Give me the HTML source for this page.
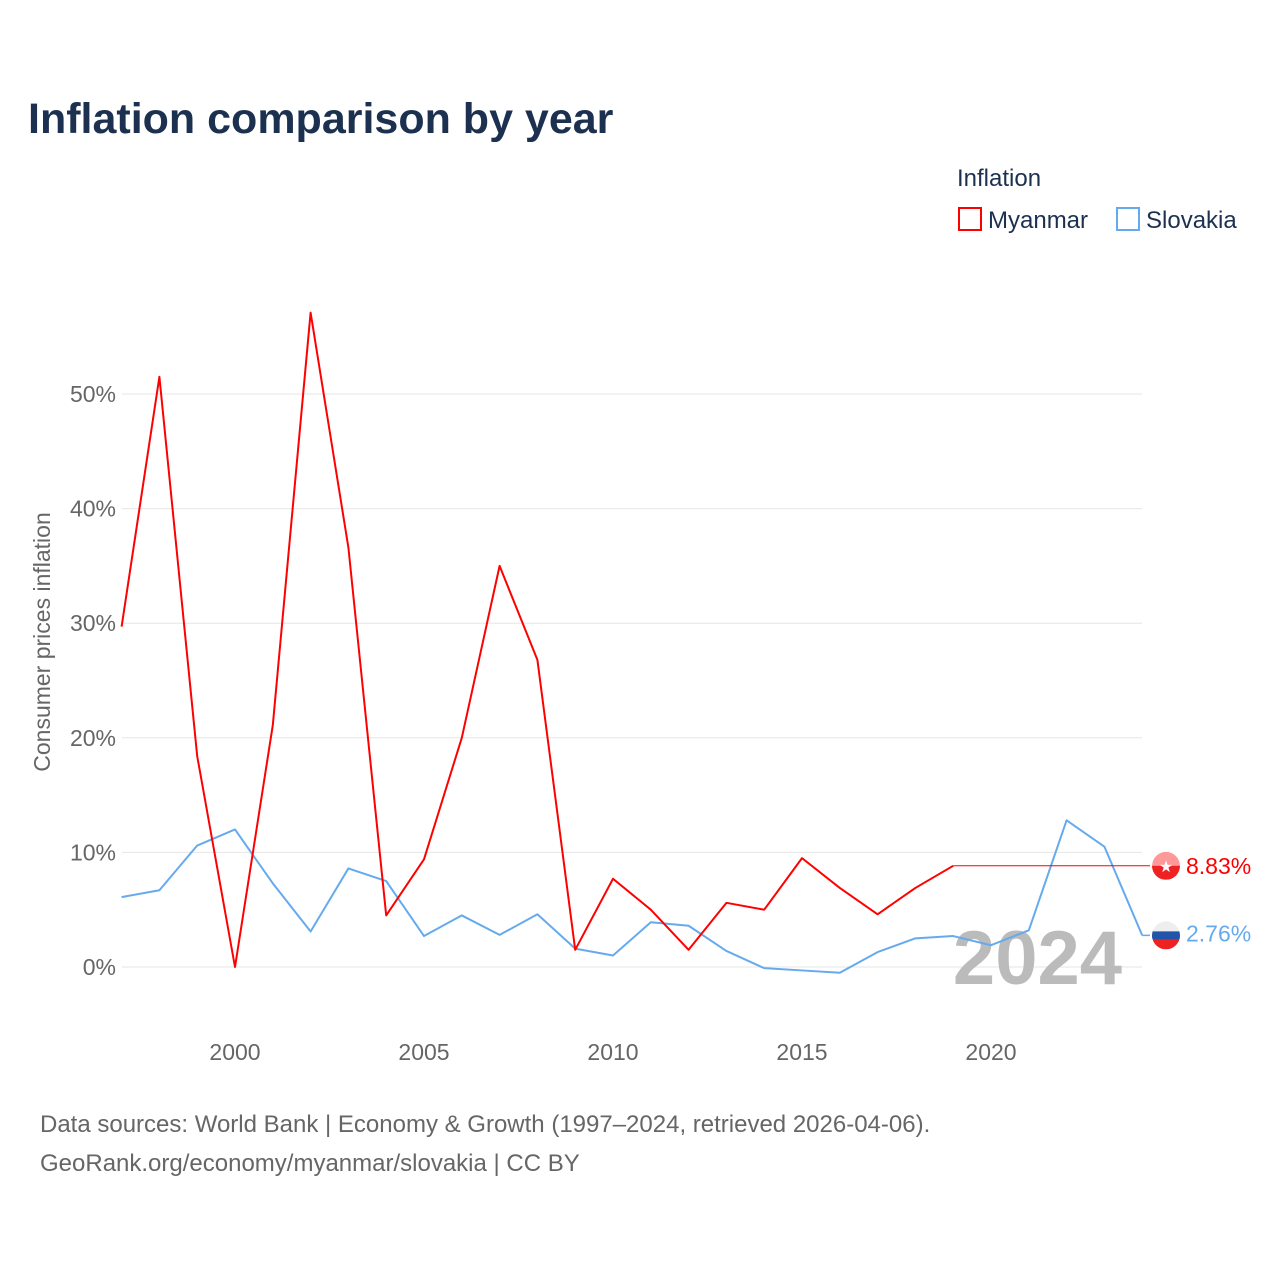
<!DOCTYPE html>
<html><head><meta charset="utf-8"><style>
body{margin:0;background:#fff;font-family:"Liberation Sans",sans-serif}
svg{display:block}
</style></head><body>
<svg width="1280" height="1280" id="chart">
<rect width="1280" height="1280" fill="#fff"/>
<text x="28" y="133" font-size="43" font-weight="bold" fill="#1c3150">Inflation comparison by year</text>
<text x="957" y="186" font-size="24" fill="#1c3150">Inflation</text>
<g><rect x="959" y="208" width="22" height="22" fill="none" stroke="#ff0000" stroke-width="2"/><text x="988" y="228" font-size="24" fill="#1c3150">Myanmar</text></g>
<g><rect x="1117" y="208" width="22" height="22" fill="none" stroke="#66aaee" stroke-width="2"/><text x="1146" y="228" font-size="24" fill="#1c3150">Slovakia</text></g>
<text transform="translate(50,642) rotate(-90)" text-anchor="middle" font-size="23" fill="#666">Consumer prices inflation</text>
<defs><clipPath id="c1"><circle cx="1166" cy="865.8" r="14"/></clipPath><clipPath id="c2"><circle cx="1166" cy="935.4" r="14"/></clipPath></defs>
<g id="grid"></g><g id="xt"></g>
<text x="1122" y="984" text-anchor="end" font-size="76" font-weight="bold" fill="#bbb">2024</text>
<g id="series"></g>
<text x="40" y="1132" font-size="24" fill="#666">Data sources: World Bank | Economy &amp; Growth (1997–2024, retrieved 2026-04-06).</text>
<text x="40" y="1171" font-size="24" fill="#666">GeoRank.org/economy/myanmar/slovakia | CC BY</text>
</svg>
<script>
const years=[1997,1998,1999,2000,2001,2002,2003,2004,2005,2006,2007,2008,2009,2010,2011,2012,2013,2014,2015,2016,2017,2018,2019,2020,2021,2022,2023,2024];
const myanmar=[29.7,51.5,18.4,0,21.1,57.1,36.6,4.5,9.4,20.0,35.0,26.8,1.5,7.7,5.0,1.5,5.6,5.0,9.5,6.9,4.6,6.9,8.83];
const slovakia=[6.1,6.7,10.6,12.0,7.3,3.1,8.6,7.5,2.7,4.5,2.8,4.6,1.6,1.0,3.9,3.6,1.4,-0.1,-0.3,-0.5,1.3,2.5,2.7,1.9,3.2,12.8,10.5,2.76];
const yTicks=[0,10,20,30,40,50];
const xTicks=[2000,2005,2010,2015,2020];
const NS="http://www.w3.org/2000/svg";
const X=y=>121.6+(y-1997)*37.8, Y=v=>967-v*11.46;
function mk(t,a,p){const e=document.createElementNS(NS,t);for(const k in a)e.setAttribute(k,a[k]);p.appendChild(e);return e;}
const g=document.getElementById('grid');
yTicks.forEach(t=>{const l=mk('line',{x1:122,x2:1142,y1:Y(t),y2:Y(t),stroke:'#e6e6e6'},g);


const tx=mk('text',{x:116,y:Y(t)+8,'text-anchor':'end','font-size':23,fill:'#666'},g);tx.textContent=t+'%';

});
const xt=document.getElementById('xt');
xTicks.forEach(t=>{const tx=mk('text',{x:X(t),y:1060,'text-anchor':'middle','font-size':23,fill:'#666'},xt);tx.textContent=t;

});
const s=document.getElementById('series');
function line(vals,col,name){const p=mk('polyline',{points:vals.map((v,i)=>X(years[i])+','+Y(v)).join(' '),fill:'none',stroke:col,'stroke-width':2,'stroke-linejoin':'round'},s);

}
line(slovakia,'#66aaee','slovakia-line');
line(myanmar,'#ff0000','myanmar-line');
const lastM=myanmar[myanmar.length-1],lastS=slovakia[slovakia.length-1];
const ext=mk('line',{x1:X(years[myanmar.length-1]),x2:1150,y1:Y(lastM),y2:Y(lastM),stroke:'#ff0000','stroke-width':1},s);


const ext2=mk('line',{x1:X(2024),x2:1150,y1:Y(lastS),y2:Y(lastS),stroke:'#66aaee','stroke-width':1.5},s);


function flag(v,c1,c2,name,clip){const fg=mk('g',{'clip-path':'url(#'+clip+')'},s);


mk('circle',{cx:1166,cy:Y(v),r:14,fill:c1},fg);
mk('rect',{x:1152,y:Y(v),width:28,height:14,fill:c2},fg);return fg;}
flag(lastM,'#f99','#e22','myanmar-flag','c1');
mk('text',{x:1166,y:Y(lastM)+6,'text-anchor':'middle','font-size':16,fill:'#fff'},s).textContent='★';
const sf=flag(lastS,'#eee','#e22','slovakia-flag','c2');
mk('rect',{x:1152,y:Y(lastS)-4,width:28,height:8,fill:'#2255aa'},sf);
const lm=mk('text',{x:1186,y:Y(lastM)+8,'font-size':23,fill:'#ff0000'},s);lm.textContent=lastM.toFixed(2)+'%';


const ls=mk('text',{x:1186,y:Y(lastS)+6,'font-size':23,fill:'#66aaee'},s);ls.textContent=lastS.toFixed(2)+'%';


</script>
</body></html>
